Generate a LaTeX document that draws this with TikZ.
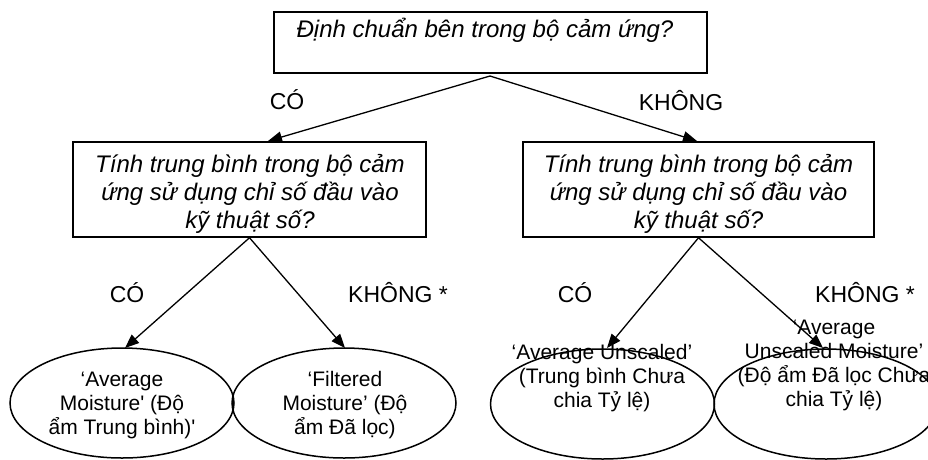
\documentclass[tikz,border=0pt]{standalone}
\usepackage{fontspec}
\setmainfont{Liberation Sans}
\usetikzlibrary{arrows.meta,shapes.geometric}
\begin{document}
\begin{tikzpicture}[x=1pt,y=-1pt,
  boxstyle/.style={draw,line width=1.5pt,inner sep=0pt,rectangle},
  oval/.style={draw,line width=1.5pt,ellipse,inner sep=0pt,minimum width=224pt,minimum height=110pt},
  qtext/.style={font=\fontsize{24}{28}\selectfont\itshape,align=center,inner sep=0pt},
  otext/.style={font=\fontsize{21}{24}\selectfont,align=center,inner sep=0pt},
  lbl/.style={font=\fontsize{23}{27}\selectfont,inner sep=0pt,anchor=base},
  conn/.style={line width=1.3pt,-{Triangle[length=14pt,width=11pt]}}]
\useasboundingbox (0,0) rectangle (928,459);
\clip (0,0) rectangle (928,459);
% boxes
\node[boxstyle,minimum width=433pt,minimum height=61pt] (topbox) at (490.5,42.5) {};
\node[boxstyle,minimum width=353pt,minimum height=95pt] (lbox) at (249.5,189.5) {};
\node[boxstyle,minimum width=351pt,minimum height=95pt] (rbox) at (698.5,189.5) {};
% box texts
\node[qtext,anchor=base] (toptext) at (485,37) {Định chuẩn bên trong bộ cảm ứng?};
\node[qtext] (ltext) at (250,194) {Tính trung bình trong bộ cảm\\ứng sử dụng chỉ số đầu vào\\kỹ thuật số?};
\node[qtext] (rtext) at (698.5,194) {Tính trung bình trong bộ cảm\\ứng sử dụng chỉ số đầu vào\\kỹ thuật số?};
% ellipses
\node[oval] (e1) at (122,403) {};
\node[oval] (e2) at (344,403) {};
\node[oval] (e3) at (602.5,404) {};
\node[oval] (e4) at (826,404) {};
% ellipse texts
\node[otext] (t1) at (122,405) {‘Average\\Moisture\textquotesingle{} (Độ\\ẩm Trung bình)\textquotesingle};
\node[otext] (t2) at (345,405) {‘Filtered\\Moisture’ (Độ\\ẩm Đã lọc)};
\node[otext] (t3) at (602,378) {‘Average Unscaled’\\(Trung bình Chưa\\chia Tỷ lệ)};
\node[otext] (t4) at (834,365) {‘Average\\Unscaled Moisture’\\(Độ ẩm Đã lọc Chưa\\chia Tỷ lệ)};
% labels
\node[lbl] (l1) at (287,109) {CÓ};
\node[lbl] (l2) at (681,110) {KHÔNG};
\node[lbl] (l3) at (127,302) {CÓ};
\node[lbl] (l4) at (398,302) {KHÔNG *};
\node[lbl] (l5) at (575,302) {CÓ};
\node[lbl] (l6) at (865,302) {KHÔNG *};
% connector points
\coordinate (ts) at (490,76);
\coordinate (lt) at (268,141);
\coordinate (rt) at (697,141);
\coordinate (a1) at (125,348);
\coordinate (a2) at (345,348);
\coordinate (a3) at (607,348);
\coordinate (a4) at (823,348);
% connectors
\draw[conn] (ts) -- (lt);
\draw[conn] (ts) -- (rt);
\draw[conn] (lbox.south) -- (a1);
\draw[conn] (lbox.south) -- (a2);
\draw[conn] (rbox.south) -- (a3);
\draw[conn] (rbox.south) -- (a4);
\end{tikzpicture}
\end{document}
